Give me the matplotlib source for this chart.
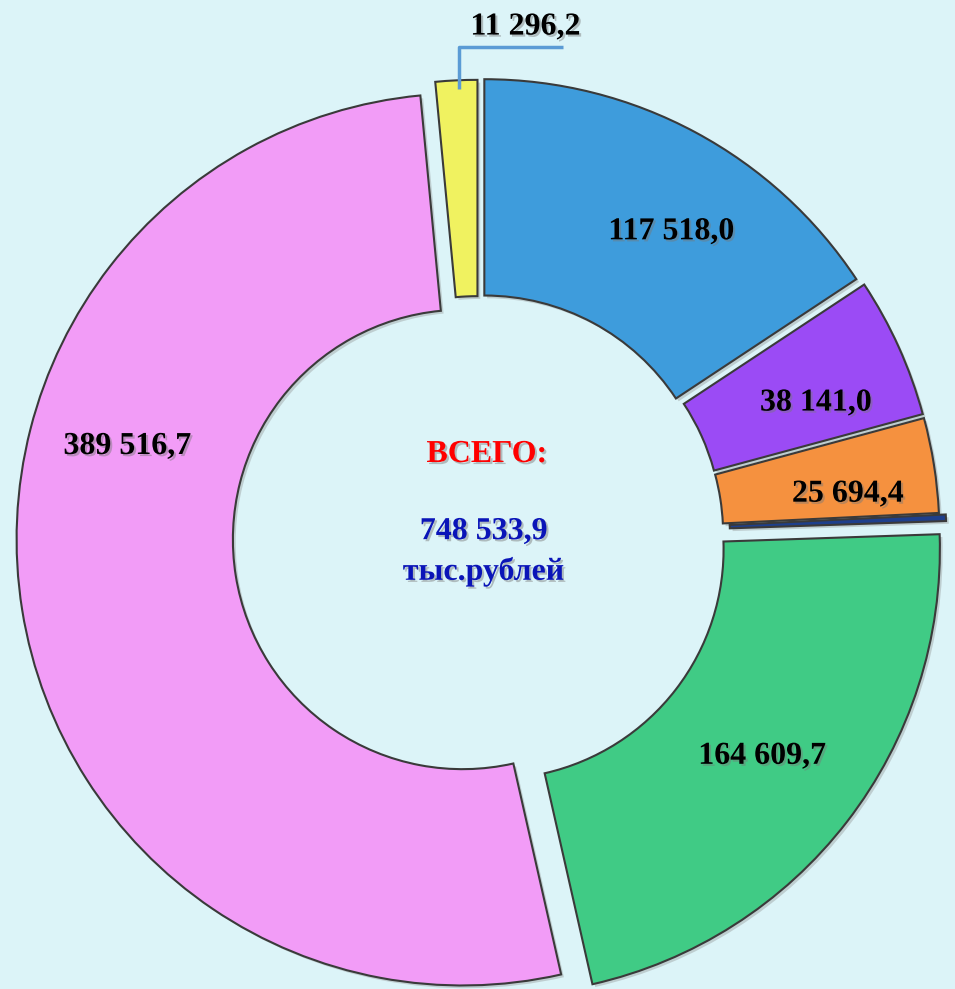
import matplotlib
matplotlib.use("Agg")
import matplotlib.pyplot as plt
import matplotlib.patheffects as pe
import numpy as np

# Data (clockwise from 12 o'clock)
values = [117518.0, 38141.0, 25694.4, 1757.9, 164609.7, 389516.7, 11296.2]
labels = ["117 518,0", "38 141,0", "25 694,4", "", "164 609,7", "389 516,7", "11 296,2"]
colors = ["#3E9CDC", "#9B4BF5", "#F5913F", "#1E3F8C", "#40CB85", "#F29CF7", "#F0F260"]
total_title = "ВСЕГО:"
total_value = "748 533,9"
total_unit = "тыс.рублей"

W, H = 955, 989
fig = plt.figure(figsize=(W / 100, H / 100), dpi=100)
bg = "#DCF4F8"
fig.patch.set_facecolor(bg)
ax = fig.add_axes([0, 0, 1, 1])
ax.set_facecolor(bg)

cx, cy, R = 478, 537, 446  # pixel centre and radius

explode = [0.03, 0.035, 0.035, 0.05, 0.045, 0.035, 0.025]
wedges, _ = ax.pie(values, startangle=90, counterclock=False, radius=1.0,
                   explode=explode, colors=colors,
                   wedgeprops=dict(width=0.485, edgecolor="#3a3a3a", linewidth=1.5))
for w in wedges:
    w.set_path_effects([pe.SimplePatchShadow(offset=(2, -2), shadow_rgbFace="#888888", alpha=0.35),
                        pe.Normal()])

ax.set_aspect("auto")
ax.set_xlim(-cx / R, (W - cx) / R)
ax.set_ylim(-(H - cy) / R, cy / R)
ax.axis("off")

shadow = [pe.withSimplePatchShadow(offset=(1.5, -1.5), shadow_rgbFace="#777777", alpha=0.45)]
font = dict(family="Liberation Serif", weight="bold", fontsize=23, color="black")

label_r = [0.78, 0.78, 0.8, 0, 0.76, 0.78, 0]
label_angle = [57.5, 21.5, 6.5, None, None, 164.5, None]
for i, (w, lab) in enumerate(zip(wedges, labels)):
    if not lab or i == 6:
        continue
    ang = label_angle[i] if label_angle[i] is not None else (w.theta1 + w.theta2) / 2
    mid = np.deg2rad(ang)
    x0, y0 = w.center
    ax.text(x0 + label_r[i] * np.cos(mid), y0 + label_r[i] * np.sin(mid), lab,
            ha="center", va="center", path_effects=shadow, **font)

# small yellow slice label with leader line
wy = wedges[6]
mid = np.deg2rad((wy.theta1 + wy.theta2) / 2)
x0, y0 = wy.center
px, py = x0 + 1.0 * np.cos(mid) + 0.005, y0 + 1.0 * np.sin(mid) - 0.02
ly = py + 0.095
ax.plot([px, px, px + 0.235], [py, ly, ly], color="#5B9BD5", lw=2.5, solid_capstyle="butt")
ax.text(px + 0.15, ly + 0.012, labels[6], ha="center", va="bottom",
        path_effects=shadow, **font)

# centre text
ax.text(0.02, 0.185, total_title, ha="center", va="center", color="#FF0000",
        family="Liberation Serif", weight="bold", fontsize=23, path_effects=shadow)
ax.text(0.013, 0.012, total_value, ha="center", va="center", color="#0A14B8",
        family="Liberation Serif", weight="bold", fontsize=23, path_effects=shadow)
ax.text(0.013, -0.078, total_unit, ha="center", va="center", color="#0A14B8",
        family="Liberation Serif", weight="bold", fontsize=23, path_effects=shadow)

fig.savefig("out.png", dpi=100, facecolor=bg)
